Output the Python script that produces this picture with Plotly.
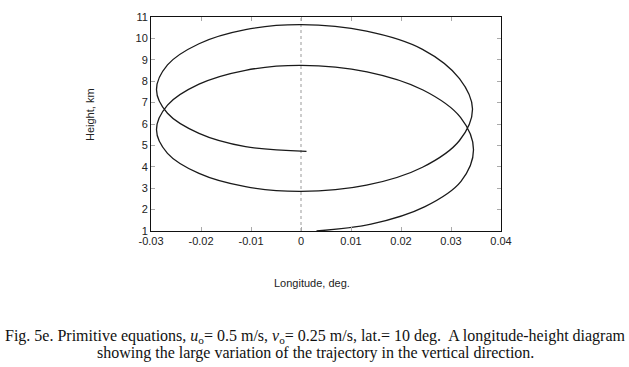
import plotly.graph_objects as go

# Trajectory points (longitude in deg, height in km)
lon = [0.0011, -0.0111, -0.0204, -0.0267, -0.0289, -0.0267, -0.0204, -0.0111,
       0.0, 0.0131, 0.0243, 0.0317, 0.0343, 0.0317, 0.0243, 0.0131,
       0.0, -0.0111, -0.0204, -0.0267, -0.0289, -0.0267, -0.0204, -0.0111,
       0.0, 0.0132, 0.0244, 0.0319, 0.0345, 0.0320, 0.0248, 0.0140, 0.0031]
height = [4.72, 4.94, 5.56, 6.50, 7.60, 8.76, 9.75, 10.41,
          10.64, 10.34, 9.49, 8.12, 6.70, 5.23, 3.98, 3.14,
          2.85, 3.07, 3.69, 4.63, 5.73, 6.88, 7.86, 8.51,
          8.74, 8.44, 7.59, 6.31, 4.80, 3.32, 2.14, 1.32, 1.00]

x_ticks = [-0.03, -0.02, -0.01, 0, 0.01, 0.02, 0.03, 0.04]
x_tick_labels = ["-0.03", "-0.02", "-0.01", "0", "0.01", "0.02", "0.03", "0.04"]
y_ticks = [1, 2, 3, 4, 5, 6, 7, 8, 9, 10, 11]
y_tick_labels = [str(v) for v in y_ticks]

fig = go.Figure()
fig.add_trace(go.Scatter(x=lon, y=height, mode="lines",
                         line=dict(color="#1a1a1a", width=1.3, shape="spline", smoothing=1.0),
                         hoverinfo="skip", showlegend=False))

fig.add_shape(type="line", x0=0, x1=0, y0=1, y1=11, xref="x", yref="y",
              line=dict(color="#999999", width=1, dash="3px,3px"), layer="below")

axis_common = dict(showgrid=False, zeroline=False, showline=True, linecolor="#111111",
                   linewidth=1, mirror="ticks", ticks="inside", ticklen=4,
                   tickcolor="#aaaaaa", tickwidth=1,
                   tickfont=dict(family="Liberation Sans, Arial", size=11, color="#222222"))

fig.update_xaxes(range=[-0.03, 0.04], tickvals=x_ticks, ticktext=x_tick_labels, **axis_common)
fig.update_yaxes(range=[1, 11], tickvals=y_ticks, ticktext=y_tick_labels, **axis_common)

caption1 = ("Fig. 5e. Primitive equations, <i>u</i><sub>o</sub>= 0.5 m/s, "
            "<i>v</i><sub>o</sub>= 0.25 m/s, lat.= 10 deg.&nbsp; A longitude-height diagram")
caption2 = "showing the large variation of the trajectory in the vertical direction."

def px_x(p):
    return (p - 151) / 350

def px_y(p):
    return (231 - p) / 214

cap_font = dict(family="Liberation Serif, Times New Roman", size=16, color="#111111")
lab_font = dict(family="Liberation Sans, Arial", size=11, color="#222222")

fig.update_layout(
    width=629, height=367,
    margin=dict(l=151, r=128, t=17, b=136),
    paper_bgcolor="white", plot_bgcolor="white",
    annotations=[
        dict(text="Height, km", xref="paper", yref="paper", x=px_x(90), y=px_y(115),
             textangle=-90, showarrow=False, xanchor="center", yanchor="middle", font=lab_font),
        dict(text="Longitude, deg.", xref="paper", yref="paper", x=px_x(312), y=px_y(283),
             showarrow=False, xanchor="center", yanchor="middle", font=lab_font),
        dict(text=caption1, xref="paper", yref="paper", x=px_x(315), y=px_y(336),
             showarrow=False, xanchor="center", yanchor="middle", font=cap_font),
        dict(text=caption2, xref="paper", yref="paper", x=px_x(315), y=px_y(353),
             showarrow=False, xanchor="center", yanchor="middle", font=cap_font),
    ],
)

fig.write_html("out.html", config={"displayModeBar": False},
               post_script="document.body.style.margin='0';")
